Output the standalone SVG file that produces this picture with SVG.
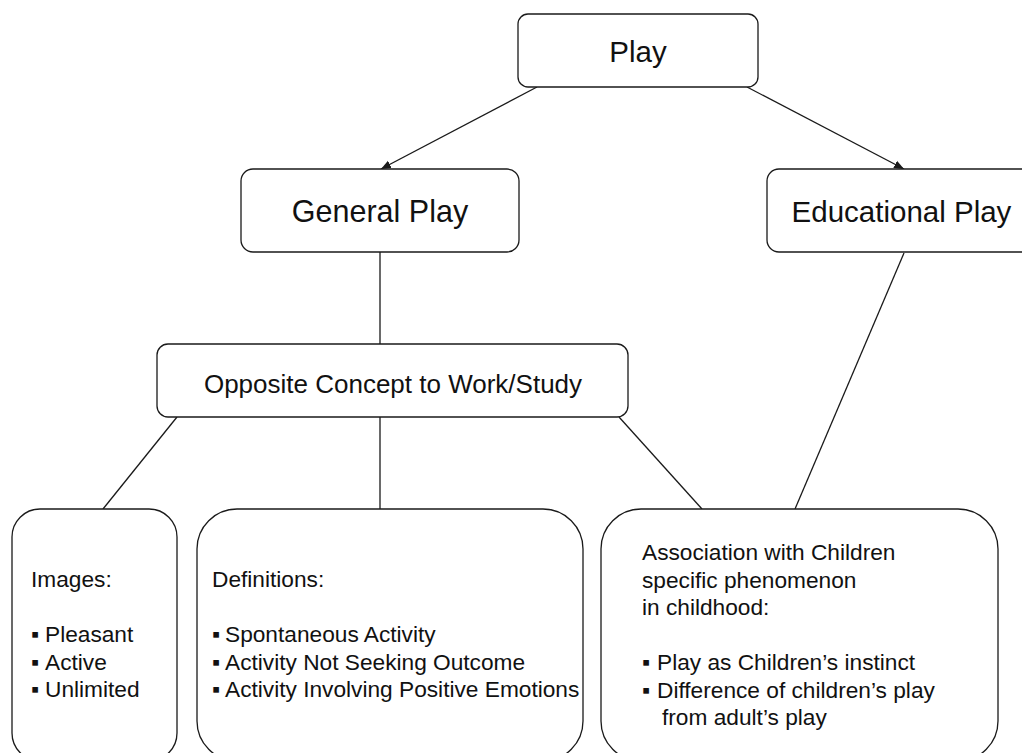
<svg xmlns="http://www.w3.org/2000/svg" width="1022" height="753" viewBox="0 0 1022 753">
<defs>
<style>
.box{fill:#fff;stroke:#1a1a1a;stroke-width:1.3}
.ln{fill:none;stroke:#1a1a1a;stroke-width:1.3}
text{font-family:"Liberation Sans",Arial,sans-serif;fill:#111}
.big{font-size:29.5px;text-anchor:middle}
.gp{font-size:30.5px}
.mid{font-size:26px;text-anchor:middle}
.sm{font-size:22.7px}
</style>
<marker id="ah" viewBox="0 0 10 10" refX="10" refY="5" markerWidth="10" markerHeight="10" markerUnits="userSpaceOnUse" orient="auto">
<path d="M0,1 L10,5 L0,9 Z" fill="#1a1a1a"/>
</marker>
</defs>
<rect width="1022" height="753" fill="#fff"/>
<g id="connectors">
<line class="ln" x1="537" y1="87" x2="381" y2="169" marker-end="url(#ah)"/>
<line class="ln" x1="747" y1="87" x2="904" y2="169" marker-end="url(#ah)"/>
<line class="ln" x1="380" y1="252" x2="380" y2="344"/>
<line class="ln" x1="904" y1="253" x2="795" y2="509"/>
<line class="ln" x1="177" y1="417" x2="103" y2="509"/>
<line class="ln" x1="380" y1="417" x2="380" y2="509"/>
<line class="ln" x1="619" y1="417" x2="702" y2="509"/>
</g>
<g id="play">
<rect class="box" x="518" y="14" width="240" height="73" rx="10"/>
<text class="big" x="638" y="62">Play</text>
</g>
<g id="general-play">
<rect class="box" x="241" y="169" width="278" height="83" rx="12"/>
<text class="big gp" x="380" y="222">General Play</text>
</g>
<g id="educational-play">
<rect class="box" x="767" y="169" width="270" height="83" rx="12"/>
<text class="big" x="901.5" y="222">Educational Play</text>
</g>
<g id="opposite">
<rect class="box" x="157" y="344" width="471" height="73" rx="11"/>
<text class="mid" x="393" y="393">Opposite Concept to Work/Study</text>
</g>
<g id="images">
<rect class="box" x="12" y="509" width="165" height="252" rx="28"/>
<text class="sm"><tspan x="31" y="587">Images:</tspan></text>
<text class="sm"><tspan x="31" y="642">▪</tspan><tspan x="45" y="642">Pleasant</tspan><tspan x="31" y="669.5">▪</tspan><tspan x="45" y="669.5">Active</tspan><tspan x="31" y="697">▪</tspan><tspan x="45" y="697">Unlimited</tspan></text>
</g>
<g id="definitions">
<rect class="box" x="197" y="509" width="386" height="252" rx="40"/>
<text class="sm"><tspan x="212" y="587">Definitions:</tspan></text>
<text class="sm"><tspan x="212" y="642">▪</tspan><tspan x="225" y="642">Spontaneous Activity</tspan><tspan x="212" y="669.5">▪</tspan><tspan x="225" y="669.5">Activity Not Seeking Outcome</tspan><tspan x="212" y="697">▪</tspan><tspan x="225" y="697">Activity Involving Positive Emotions</tspan></text>
</g>
<g id="association">
<rect class="box" x="601" y="509" width="397" height="252" rx="40"/>
<text class="sm"><tspan x="642" y="560">Association with Children</tspan><tspan x="642" y="587.5">specific phenomenon</tspan><tspan x="642" y="615">in childhood:</tspan></text>
<text class="sm"><tspan x="642" y="670">▪</tspan><tspan x="657" y="670">Play as Children’s instinct</tspan><tspan x="642" y="697.5">▪</tspan><tspan x="657" y="697.5">Difference of children’s play</tspan><tspan x="662" y="725">from adult’s play</tspan></text>
</g>
</svg>
